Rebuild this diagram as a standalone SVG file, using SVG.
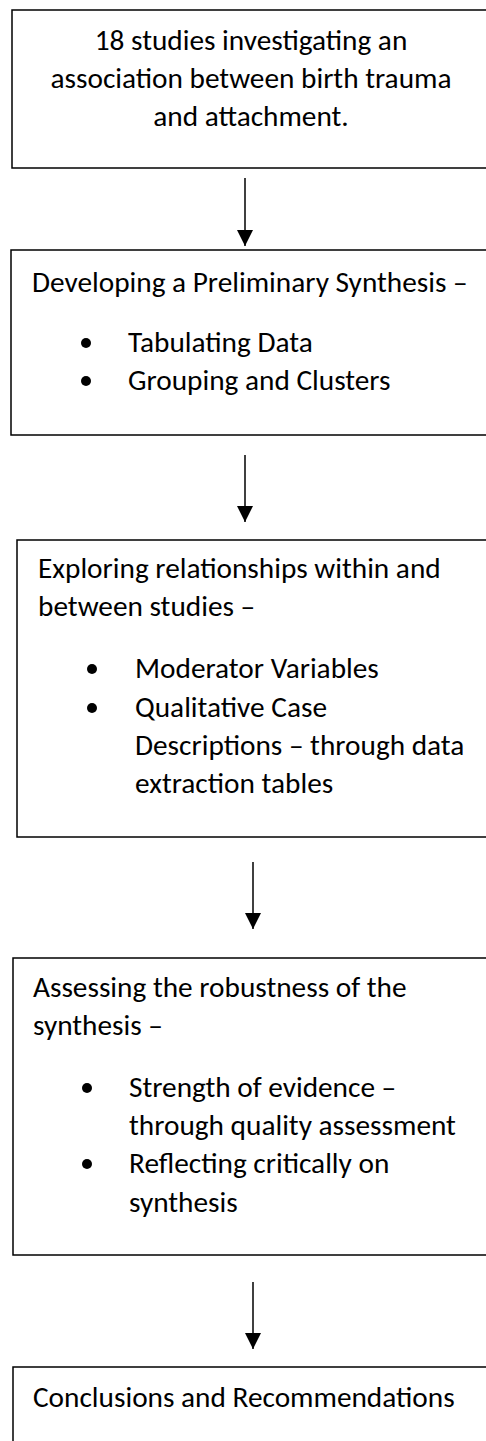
<svg xmlns="http://www.w3.org/2000/svg" width="486" height="1441" viewBox="0 0 486 1441">
<defs>
<style>
.box{fill:#fff;stroke:#000;stroke-width:1.5}
.t{font-family:Carlito,Lato,"Liberation Sans",sans-serif;font-size:29.3px;fill:#000}
.c{text-anchor:middle}
.b{fill:#000}
.con{stroke:#000;stroke-width:1.5;fill:none;marker-end:url(#ah)}
</style>
<marker id="ah" viewBox="0 0 16 16" refX="16" refY="8" markerWidth="16" markerHeight="16" markerUnits="userSpaceOnUse" orient="auto">
<path d="M0,0 L16,8 L0,16 Z" fill="#000"/>
</marker>
</defs>
<rect width="486" height="1441" fill="#fff"/>
<g id="connectors">
<line class="con" x1="245" y1="178" x2="245" y2="246"/>
<line class="con" x1="245" y1="455" x2="245" y2="522"/>
<line class="con" x1="253" y1="862" x2="253" y2="929"/>
<line class="con" x1="253" y1="1282" x2="253" y2="1349"/>
</g>
<g id="n1">
<rect class="box" x="12" y="10" width="490" height="158"/>
<text class="t c" x="251" y="50">18 studies investigating an</text>
<text class="t c" x="251" y="88">association between birth trauma</text>
<text class="t c" x="251" y="126">and attachment.</text>
</g>
<g id="n2">
<rect class="box" x="11" y="250" width="490" height="185"/>
<text class="t" x="32" y="292">Developing a Preliminary Synthesis –</text>
<circle class="b" cx="86" cy="343" r="5"/>
<text class="t" x="128" y="352">Tabulating Data</text>
<circle class="b" cx="86" cy="381" r="5"/>
<text class="t" x="128" y="390">Grouping and Clusters</text>
</g>
<g id="n3">
<rect class="box" x="17" y="540" width="490" height="297"/>
<text class="t" x="38" y="578">Exploring relationships within and</text>
<text class="t" x="38" y="616">between studies –</text>
<circle class="b" cx="92" cy="669" r="5"/>
<text class="t" x="135" y="678">Moderator Variables</text>
<circle class="b" cx="92" cy="708" r="5"/>
<text class="t" x="135" y="717">Qualitative Case</text>
<text class="t" x="135" y="755">Descriptions – through data</text>
<text class="t" x="135" y="793">extraction tables</text>
</g>
<g id="n4">
<rect class="box" x="13" y="958" width="490" height="297"/>
<text class="t" x="33" y="997">Assessing the robustness of the</text>
<text class="t" x="33" y="1035">synthesis –</text>
<circle class="b" cx="87" cy="1088" r="5"/>
<text class="t" x="129" y="1097">Strength of evidence –</text>
<text class="t" x="129" y="1135">through quality assessment</text>
<circle class="b" cx="87" cy="1164" r="5"/>
<text class="t" x="129" y="1173">Reflecting critically on</text>
<text class="t" x="129" y="1212">synthesis</text>
</g>
<g id="n5">
<rect class="box" x="13" y="1367" width="490" height="100"/>
<text class="t" x="33" y="1407">Conclusions and Recommendations</text>
</g>
</svg>
